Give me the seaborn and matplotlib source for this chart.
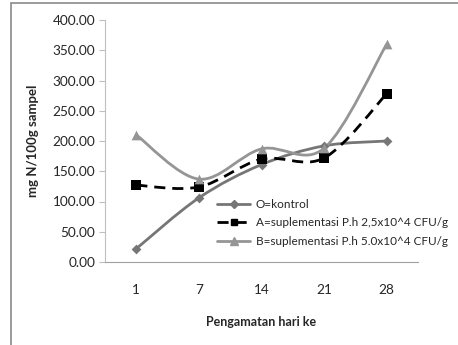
import numpy as np
import pandas as pd
import matplotlib
matplotlib.use("Agg")
import matplotlib.pyplot as plt
import seaborn as sns
from matplotlib.path import Path
from matplotlib.patches import PathPatch, Rectangle
from matplotlib.lines import Line2D

days = ["1", "7", "14", "21", "28"]
kontrol = [22, 106, 161, 192, 200]
supl_a = [127, 124, 170, 172, 278]
supl_b = [210, 137, 187, 188, 360]
labels = ["O=kontrol", "A=suplementasi P.h 2,5x10^4 CFU/g", "B=suplementasi P.h 5.0x10^4 CFU/g"]

sns.set_style("white")
plt.rcParams['font.family'] = ['Lato', 'DejaVu Sans']

fig = plt.figure(figsize=(4.58, 3.45), dpi=100)
ax = fig.add_axes([105/458, 1-262/345, 313/458, 242/345])

def smooth_path(xs, ys):
    pts = np.column_stack([xs, ys]).astype(float)
    n = len(pts)
    verts = [pts[0]]
    codes = [Path.MOVETO]
    for i in range(n - 1):
        p0 = pts[i - 1] if i > 0 else pts[i]
        p1 = pts[i]
        p2 = pts[i + 1]
        p3 = pts[i + 2] if i + 2 < n else pts[i + 1]
        c1 = p1 + (p2 - p0) / 6.0
        c2 = p2 - (p3 - p1) / 6.0
        verts += [c1, c2, p2]
        codes += [Path.CURVE4] * 3
    return Path(verts, codes)

series = [
    (kontrol, "#767676", "-", "D", 5, 4, 2.0),
    (supl_a, "black", (0, (4, 2.5)), "s", 6.5, 5, 2.0),
    (supl_b, "#959595", "-", "^", 7, 5.5, 2.0),
]
xs = np.arange(len(days))
handles = []
for (vals, col, ls, mk, ms, lms, lw), lab in zip(series, labels):
    patch = PathPatch(smooth_path(xs, vals), facecolor="none", edgecolor=col,
                      linestyle=ls, linewidth=lw, zorder=2)
    ax.add_patch(patch)
    df = pd.DataFrame({"x": xs, "y": vals})
    sns.scatterplot(data=df, x="x", y="y", ax=ax, marker=mk, s=ms**2,
                    color=col, edgecolor=col, linewidth=0, zorder=3, legend=False)
    handles.append(Line2D([0], [0], color=col, linestyle=ls, linewidth=lw,
                          marker=mk, markersize=lms, markeredgecolor=col))

ax.set_xlim(-0.5, len(days) - 0.5)
ax.set_ylim(0, 400)
ax.set_xticks(xs)
ax.set_xticklabels(days)
ax.set_yticks(np.arange(0, 401, 50))
ax.set_yticklabels([f"{v:.2f}" for v in np.arange(0, 401, 50)])
for s in ["top", "right"]:
    ax.spines[s].set_visible(False)
ax.spines["left"].set_color("#bfbfbf")
ax.spines["bottom"].set_color("#a0a0a0")
ax.tick_params(axis="y", length=4, color="#bfbfbf", labelsize=9.8, pad=3, left=True)
ax.tick_params(axis="x", length=0, labelsize=9.8, pad=16)
ax.set_xlabel("Pengamatan hari ke", fontsize=9, fontweight="bold", labelpad=14)
ax.set_ylabel("mg N/100g sampel", fontsize=9.5, fontweight="bold", labelpad=10)

leg = fig.legend(handles, labels, loc="upper left", bbox_to_anchor=(217/458, 1-199/345),
                 frameon=False, fontsize=8.5, handlelength=2.8, handletextpad=0.5,
                 labelspacing=0.62, borderaxespad=0, borderpad=0)

fig.add_artist(Rectangle((11/458, -0.1), 1.2, 1-3/345+0.1, transform=fig.transFigure,
                         facecolor="none", edgecolor="#8a8a8a", linewidth=1.2))

fig.savefig("out.png", dpi=100)
